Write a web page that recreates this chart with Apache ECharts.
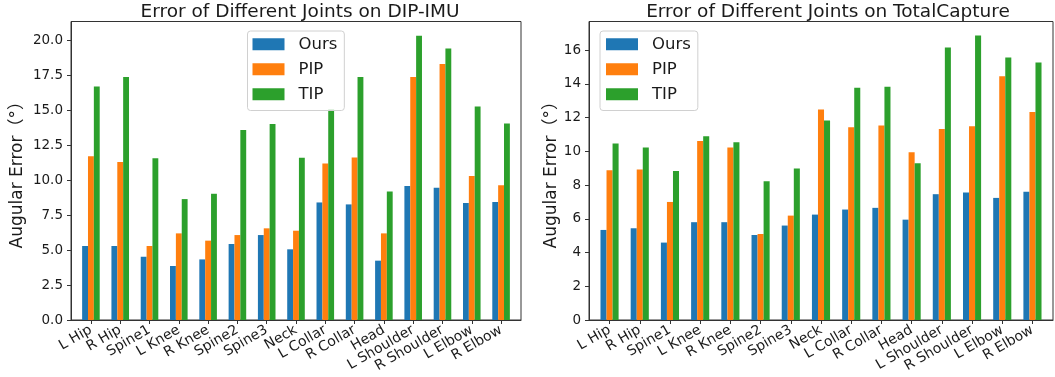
<!DOCTYPE html>
<html>
<head>
<meta charset="utf-8">
<script src="https://cdn.jsdelivr.net/npm/echarts@6/dist/echarts.min.js"></script>
<style>
html,body{margin:0;padding:0;background:#fff;}
#chart{width:1055px;height:377px;}
</style>
</head>
<body>
<div id="chart"></div>
<script>
const categories = ['L Hip','R Hip','Spine1','L Knee','R Knee','Spine2','Spine3','Neck','L Collar','R Collar','Head','L Shoulder','R Shoulder','L Elbow','R Elbow'];
const seriesNames = ['Ours','PIP','TIP'];

const dipOurs = [5.29,5.29,4.52,3.86,4.33,5.43,6.07,5.05,8.40,8.26,4.24,9.57,9.45,8.36,8.43];
const dipPIP  = [11.71,11.29,5.29,6.19,5.67,6.07,6.55,6.38,11.19,11.62,6.19,17.36,18.29,10.29,9.62];
const dipTIP  = [16.69,17.36,11.55,8.64,9.02,13.57,14.00,11.60,15.07,17.36,9.19,20.31,19.40,15.26,14.05];

const tcOurs = [5.34,5.44,4.59,5.80,5.80,5.04,5.60,6.25,6.55,6.65,5.95,7.46,7.56,7.24,7.60];
const tcPIP  = [8.88,8.92,7.00,10.62,10.23,5.10,6.19,12.48,11.43,11.53,9.95,11.33,11.49,14.46,12.34];
const tcTIP  = [10.46,10.23,8.84,10.90,10.54,8.23,8.98,11.83,13.77,13.83,9.30,16.16,16.87,15.57,15.27];

const dipYTicks = [0,2.5,5,7.5,10,12.5,15,17.5,20];
const tcYTicks = [0,2,4,6,8,10,12,14,16];

const titles = ['Error of Different Joints on DIP-IMU','Error of Different Joints on TotalCapture'];
const yName = 'Augular Error（°）';

const colors = ['#1f77b4','#ff7f0e','#2ca02c'];
const FONT = '"DejaVu Sans","Noto Sans CJK SC",sans-serif';
const catIdx = categories.map((c,i)=>i);

const grids = [
  {left:71, top:21.5, width:450, height:298.5},
  {left:589, top:21.5, width:464, height:298.5}
];
const yMax = [21.33, 17.7];
const yTicks = [dipYTicks, tcYTicks];
const yDigits = [1, 0];
const barW = [5.86, 6.04];

const chart = echarts.init(document.getElementById('chart'), null, {renderer:'canvas'});

const legendBase = {orient:'vertical', top:31, data:seriesNames, itemWidth:32, itemHeight:12, itemGap:8.5,
  borderColor:'#d0d0d0', borderWidth:1, borderRadius:3, backgroundColor:'rgba(255,255,255,0.85)',
  icon:'rect', textStyle:{fontFamily:FONT, fontSize:16.5, color:'#1a1a1a', lineHeight:16, padding:[0,0,0,9]}};

const option = {
  animation:false,
  color: colors,
  title: [
    {text:titles[0], left:295, top:-2, textAlign:'center', textStyle:{fontFamily:FONT, fontSize:18.5, fontWeight:'normal', color:'#1a1a1a'}},
    {text:titles[1], left:823, top:-2, textAlign:'center', textStyle:{fontFamily:FONT, fontSize:18.5, fontWeight:'normal', color:'#1a1a1a'}}
  ],
  legend: [
    Object.assign({}, legendBase, {left:247.5, padding:[5,7,8,5]}),
    Object.assign({}, legendBase, {left:600, padding:[5,7,8,6]})
  ],
  grid: grids.map(g=>Object.assign({show:true, borderColor:'#333', borderWidth:1, backgroundColor:'transparent'}, g)),
  xAxis: [0,1].map(i=>({
    type:'value', gridIndex:i, min:-0.68, max:14.68,
    splitLine:{show:false},
    axisLine:{show:true, onZero:false, lineStyle:{color:'#333', width:1}},
    axisTick:{show:true, inside:false, length:4, lineStyle:{color:'#333'}, customValues:catIdx},
    axisLabel:{show:true, rotate:30, margin:9, fontFamily:FONT, fontSize:14, color:'#1a1a1a',
      customValues:catIdx, formatter:(v)=>categories[Math.round(v)]}
  })),
  yAxis: [0,1].map(i=>({
    type:'value', gridIndex:i, min:0, max:yMax[i],
    name:yName, nameLocation:'middle', nameGap:i===0?45:28, nameRotate:90,
    nameTextStyle:{fontFamily:FONT, fontSize:17, color:'#1a1a1a'},
    splitLine:{show:false},
    axisLine:{show:true, onZero:false, lineStyle:{color:'#333', width:1}},
    axisTick:{show:true, inside:false, length:4, lineStyle:{color:'#333'}, customValues:yTicks[i]},
    axisLabel:{show:true, margin:8, fontFamily:FONT, fontSize:13.5, color:'#1a1a1a',
      customValues:yTicks[i], formatter:(v)=>Number(v).toFixed(yDigits[i])}
  })),
  series: []
};

const dataSets = [[dipOurs,dipPIP,dipTIP],[tcOurs,tcPIP,tcTIP]];
dataSets.forEach((set, gi)=>{
  set.forEach((arr, si)=>{
    option.series.push({
      type:'bar', name:seriesNames[si], xAxisIndex:gi, yAxisIndex:gi,
      barWidth:barW[gi], barGap:'0%',
      itemStyle:{color:colors[si]},
      data: arr.map((v,k)=>[catIdx[k], v])
    });
  });
});

chart.setOption(option);
</script>
</body>
</html>
